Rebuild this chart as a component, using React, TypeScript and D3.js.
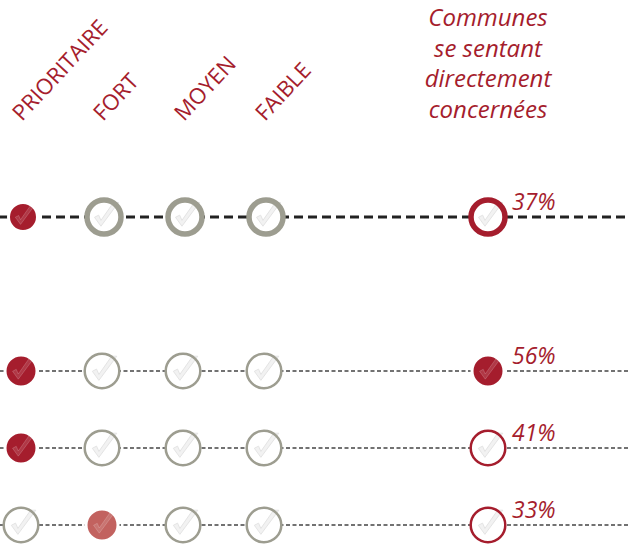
import React from "react";
import * as d3 from "d3";

const levels = ["PRIORITAIRE", "FORT", "MOYEN", "FAIBLE"];
const concernTitle = ["Communes", "se sentant", "directement", "concernées"];
const rowIds = ["global", "r1", "r2", "r3"];
const rowLevel = ["PRIORITAIRE", "PRIORITAIRE", "PRIORITAIRE", "FORT"];
const rowShade = ["dark", "dark", "dark", "light"];
const concernPct = [37, 56, 41, 33];
const concernFilled = [false, true, false, false];

const W = 638;
const H = 544;
const RED = "#a51d2d";
const LIGHT_RED = "#c2625f";
const GREY = "#9d9d90";
const FONT = "'Open Sans', Lato, sans-serif";

const checkPath = (r: number) =>
  `M${-0.62 * r},${0.02 * r} L${-0.2 * r},${0.6 * r} L${0.95 * r},${-0.95 * r} L${0.62 * r},${-0.95 * r} L${-0.2 * r},${0.22 * r} L${-0.35 * r},${-0.12 * r} Z`;

const Mark = ({ cx, cy, big, filled, colour, ring }: any) => {
  const r = big ? (filled ? 14.5 : 17) : filled ? 16 : 17.3;
  const sw = big ? 5.5 : 2.5;
  return (
    <g transform={`translate(${cx},${cy})`}>
      {filled ? (
        <>
          <circle r={r} fill={colour} stroke="#fff" strokeWidth={3} />
          <path d={checkPath(r * 0.85)} fill="#fff" fillOpacity={0.12} stroke="#fff" strokeOpacity={0.18} strokeWidth={1} />
        </>
      ) : (
        <>
          <circle r={r} fill="#fff" />
          <path d={checkPath(r * 0.9)} fill="#f2f2f2" stroke="#e4e4e4" strokeWidth={1} />
          <circle r={r} fill="none" stroke={ring} strokeWidth={sw} />
        </>
      )}
    </g>
  );
};

export default function App() {
  const x = d3.scalePoint<string>().domain(levels).range([21, 264]);
  const xConcern = 488;
  const yRows = d3.scalePoint<string>().domain(rowIds.slice(1)).range([371, 525]);
  const y = (id: string) => (id === "global" ? 217 : (yRows(id) as number));

  return (
    <div>
      <style>{`body{margin:0}`}</style>
      <svg width={W} height={H} style={{ display: "block" }} fontFamily={FONT}>
        {levels.map((l) => (
          <text
            key={l}
            transform={`translate(${(x(l) as number) + 1},122) rotate(-47)`}
            fill={RED}
            fontSize={22}
          >
            {l}
          </text>
        ))}
        {concernTitle.map((t, i) => (
          <text
            key={t}
            x={xConcern}
            y={26 + i * 30.7}
            textAnchor="middle"
            fill={RED}
            fontSize={24}
            fontStyle="italic"
          >
            {t}
          </text>
        ))}
        {rowIds.map((id, i) => {
          const big = id === "global";
          const cy = y(id);
          const dx = big ? 2 : 0;
          return (
            <g key={id}>
              <line
                x1={0}
                x2={629}
                y1={cy}
                y2={cy}
                stroke={big ? "#222" : "#444"}
                strokeWidth={big ? 3 : 1.4}
                strokeDasharray={big ? "9 5" : "4 2.5"}
              />
              {levels.map((l) => {
                const on = l === rowLevel[i];
                return (
                  <Mark
                    key={l}
                    cx={(x(l) as number) + dx}
                    cy={cy}
                    big={big}
                    filled={on}
                    colour={rowShade[i] === "dark" ? RED : LIGHT_RED}
                    ring={GREY}
                  />
                );
              })}
              <Mark cx={xConcern} cy={cy} big={big} filled={concernFilled[i]} colour={RED} ring={RED} />
              <text x={512} y={cy - 7} fill={RED} fontSize={23} fontStyle="italic">
                {concernPct[i]}%
              </text>
            </g>
          );
        })}
      </svg>
    </div>
  );
}
